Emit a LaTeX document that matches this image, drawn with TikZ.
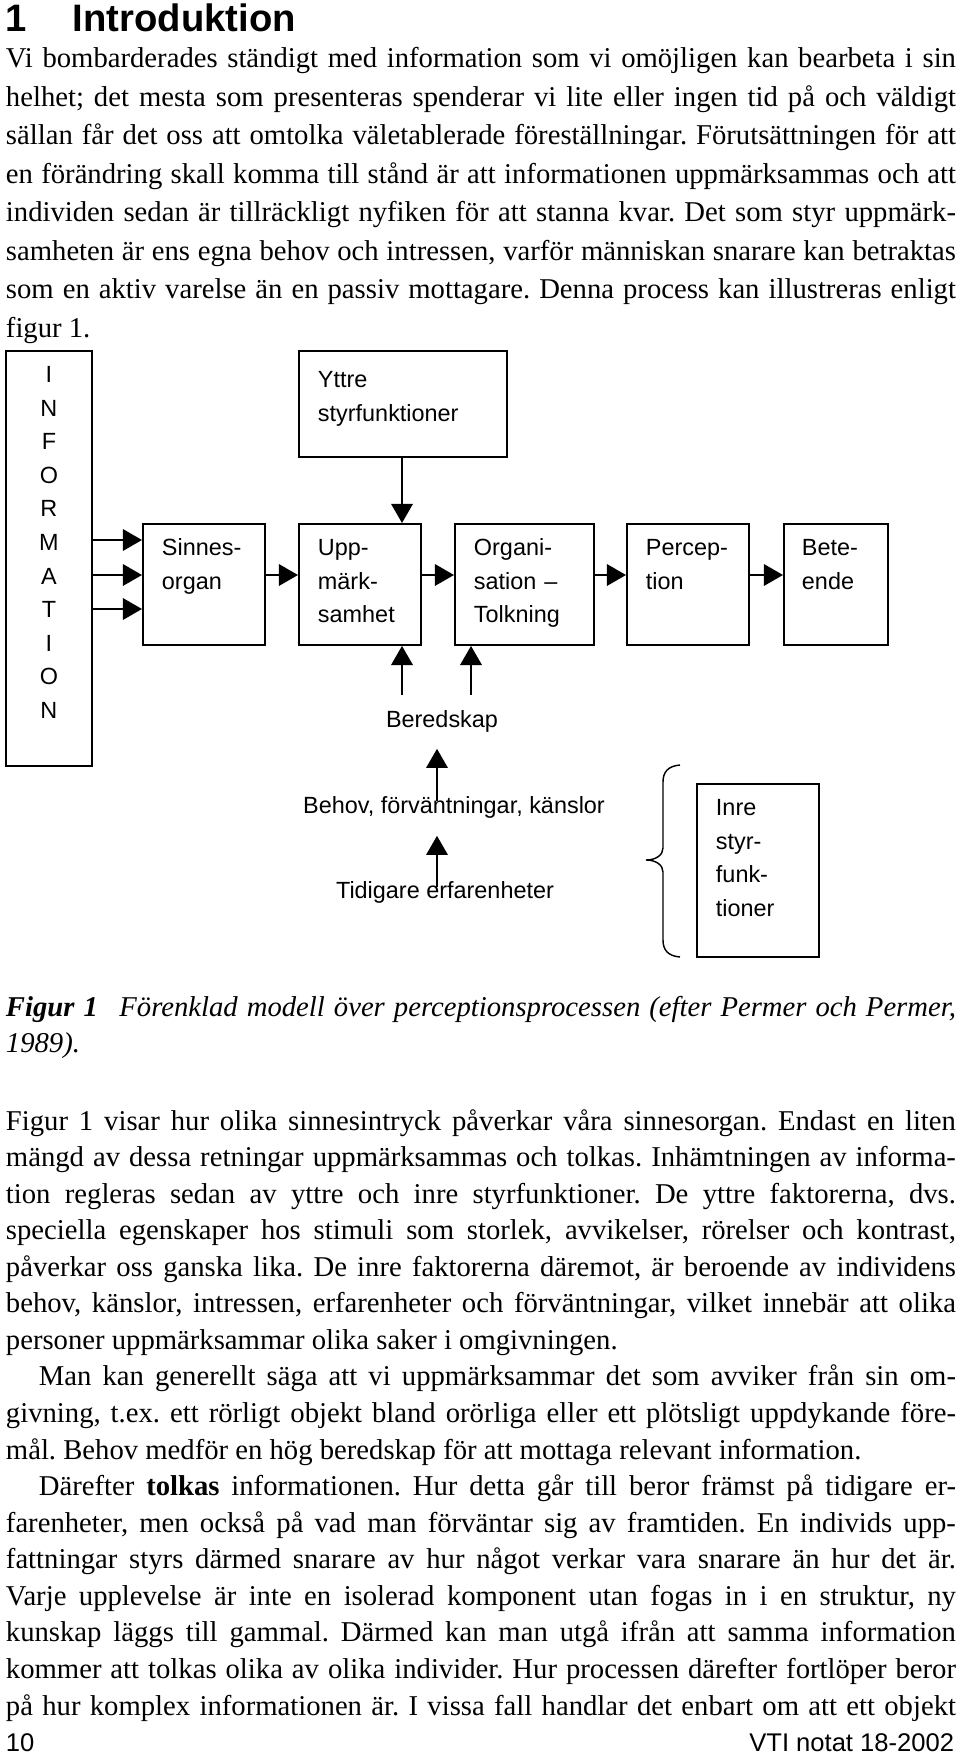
\documentclass[tikz,border=0pt]{standalone}
\usepackage{fontspec}
\setmainfont{Liberation Serif}
\setsansfont{Liberation Sans}
\usetikzlibrary{arrows.meta}

\newdimen\pxu \pxu=0.4184pt
\newcommand\bodyfont{\rmfamily\fontsize{12}{15.3}\selectfont\frenchspacing}
\newcommand\figfont{\sffamily\fontsize{9.8}{14.02}\selectfont}
\newcommand\footfont{\sffamily\fontsize{10.7}{12}\selectfont}
\newcommand\fullline[1]{\makebox[\linewidth][s]{#1}}
\newcommand\indline[1]{\hspace*{33\pxu}\makebox[\dimexpr\linewidth-33\pxu\relax][s]{#1}}

\begin{document}
\begin{tikzpicture}[
       x=0.4184pt, y=-0.4184pt,
       thick,
       box/.style={
         draw,
         rectangle,
         anchor=north west,
         inner ysep=0pt,
         align=left,
         font=\figfont
       },
       plain/.style={anchor=base, inner sep=0pt, font=\figfont},
       bodytext/.style={anchor=base west, inner sep=0pt, font=\bodyfont},
       arr/.style={-{Triangle[length=8pt,width=9pt]}}
     ]
       \useasboundingbox (0,0) rectangle (960,1758);

       \node[anchor=base west, inner sep=0pt, font=\sffamily\bfseries\fontsize{16}{19}\selectfont] (heading) at (5,32) {\makebox[67\pxu][l]{1}Introduktion};

       \node[bodytext, font=\bodyfont\fontsize{12}{16.1}\selectfont] (intro) at (5,68) {\parbox[t]{950\pxu}{%
         \fullline{Vi bombarderades ständigt med information som vi omöjligen kan bearbeta i sin}\\
         \fullline{helhet; det mesta som presenteras spenderar vi lite eller ingen tid på och väldigt}\\
         \fullline{sällan får det oss att omtolka väletablerade föreställningar. Förutsättningen för att}\\
         \fullline{en förändring skall komma till stånd är att informationen uppmärksammas och att}\\
         \fullline{individen sedan är tillräckligt nyfiken för att stanna kvar. Det som styr uppmärk-}\\
         \fullline{samheten är ens egna behov och intressen, varför människan snarare kan betraktas}\\
         \fullline{som en aktiv varelse än en passiv mottagare. Denna process kan illustreras enligt}\\
         figur 1.}};

       % boxes
       \node[box, inner xsep=10\pxu, align=center, text width=66\pxu, text height=32\pxu, text depth=383\pxu] (info) at (5,350) {I\\N\\F\\O\\R\\M\\A\\T\\I\\O\\N};
       \node[box, inner xsep=19\pxu, text width=170\pxu, text height=37\pxu, text depth=69\pxu] (yttre) at (298,350) {Yttre\\styrfunktioner};

       \node[box, inner xsep=19\pxu, text width=84\pxu, text height=32\pxu, text depth=89\pxu] (sinnes) at (142,523) {Sinnes-\\organ};
       \node[box, inner xsep=19\pxu, text width=84\pxu, text height=32\pxu, text depth=89\pxu] (upp) at (298,523) {Upp-\\märk-\\samhet};
       \node[box, inner xsep=19\pxu, text width=101\pxu, text height=32\pxu, text depth=89\pxu] (organi) at (454,523) {Organi-\\sation –\\Tolkning};
       \node[box, inner xsep=19\pxu, text width=84\pxu, text height=32\pxu, text depth=89\pxu] (percep) at (626,523) {Percep-\\tion};
       \node[box, inner xsep=18\pxu, text width=68\pxu, text height=32\pxu, text depth=89\pxu] (bete) at (783,523) {Bete-\\ende};

       \node[plain] (bered) at (442,727) {Beredskap};
       \node[plain] (behov) at (454,813) {Behov, förväntningar, känslor};
       \node[plain] (tidig) at (445,898) {Tidigare erfarenheter};

       \node[box, inner xsep=19\pxu, text width=84\pxu, text height=32\pxu, text depth=141\pxu] (inre) at (696,783) {Inre\\styr-\\funk-\\tioner};

       \coordinate (rowy) at (0,575);
       \coordinate (colA) at (402,0);
       \coordinate (colB) at (471,0);
       \coordinate (colM) at (437,0);

       \draw[arr] (info.east |- 0,540) -- (sinnes.west |- 0,540);
       \draw[arr] (info.east |- rowy) -- (sinnes.west |- rowy);
       \draw[arr] (info.east |- 0,609) -- (sinnes.west |- 0,609);

       \draw[arr] (sinnes.east |- rowy) -- (upp.west |- rowy);
       \draw[arr] (upp.east |- rowy) -- (organi.west |- rowy);
       \draw[arr] (organi.east |- rowy) -- (percep.west |- rowy);
       \draw[arr] (percep.east |- rowy) -- (bete.west |- rowy);

       \draw[arr] (yttre.south -| colA) -- (upp.north -| colA);
       \draw[arr, shorten <=14\pxu] (bered.north -| colA) -- (upp.south -| colA);
       \draw[arr, shorten <=14\pxu] (bered.north -| colB) -- (organi.south -| colB);

       \draw[arr, shorten <=-6\pxu, shorten >=16\pxu] (behov.north -| colM) -- (bered.south -| colM);
       \draw[arr, shorten <=-7\pxu, shorten >=17\pxu] (tidig.north -| colM) -- (behov.south -| colM);

       % brace
       \draw[line width=0.6pt] (680,765) .. controls (668,766) and (663,772) .. (663,782)
         -- (663,848) .. controls (663,855) and (656,860) .. (646,860)
         .. controls (656,860) and (663,865) .. (663,872)
         -- (663,940) .. controls (663,950) and (668,956) .. (680,957);

       \node[bodytext, font=\bodyfont\fontsize{12}{15.1}\selectfont\itshape] (caption) at (5,1016) {\parbox[t]{950\pxu}{%
         \fullline{\textbf{Figur 1}\hspace{9pt}Förenklad modell över perceptionsprocessen (efter Permer och Permer,}\\
         1989).}};

       \node[bodytext] (body) at (5,1130) {\parbox[t]{950\pxu}{%
         \fullline{Figur 1 visar hur olika sinnesintryck påverkar våra sinnesorgan. Endast en liten}\\
         \fullline{mängd av dessa retningar uppmärksammas och tolkas. Inhämtningen av informa-}\\
         \fullline{tion regleras sedan av yttre och inre styrfunktioner. De yttre faktorerna, dvs.}\\
         \fullline{speciella egenskaper hos stimuli som storlek, avvikelser, rörelser och kontrast,}\\
         \fullline{påverkar oss ganska lika. De inre faktorerna däremot, är beroende av individens}\\
         \fullline{behov, känslor, intressen, erfarenheter och förväntningar, vilket innebär att olika}\\
         personer uppmärksammar olika saker i omgivningen.\\
         \indline{Man kan generellt säga att vi uppmärksammar det som avviker från sin om-}\\
         \fullline{givning, t.ex. ett rörligt objekt bland orörliga eller ett plötsligt uppdykande före-}\\
         mål. Behov medför en hög beredskap för att mottaga relevant information.\\
         \indline{Därefter \textbf{tolkas} informationen. Hur detta går till beror främst på tidigare er-}\\
         \fullline{farenheter, men också på vad man förväntar sig av framtiden. En individs upp-}\\
         \fullline{fattningar styrs därmed snarare av hur något verkar vara snarare än hur det är.}\\
         \fullline{Varje upplevelse är inte en isolerad komponent utan fogas in i en struktur, ny}\\
         \fullline{kunskap läggs till gammal. Därmed kan man utgå ifrån att samma information}\\
         \fullline{kommer att tolkas olika av olika individer. Hur processen därefter fortlöper beror}\\
         \fullline{på hur komplex informationen är. I vissa fall handlar det enbart om att ett objekt}}};

       \node[anchor=base west, inner sep=0pt, font=\footfont] (pagenr) at (5,1751) {10};
       \node[anchor=base east, inner sep=0pt, font=\footfont] (series) at (955,1751) {VTI notat 18-2002};

\end{tikzpicture}
\end{document}
